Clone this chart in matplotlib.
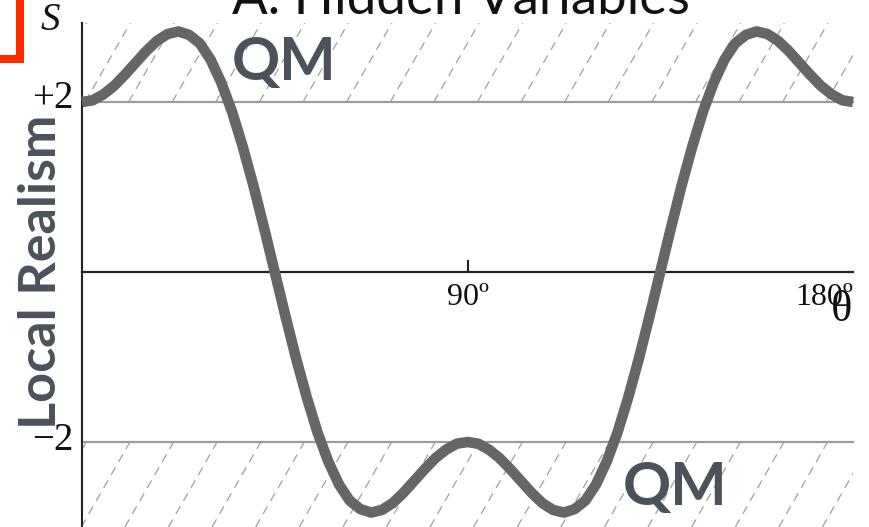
import matplotlib
matplotlib.use("Agg")
import matplotlib.pyplot as plt
from matplotlib.patches import Rectangle
from matplotlib.lines import Line2D

theta = [i * 2.5 for i in range(73)]
s_half = [2.00, 2.02, 2.09, 2.19, 2.32, 2.46, 2.60, 2.72, 2.80, 2.83,
          2.79, 2.69, 2.50, 2.23, 1.89, 1.48, 1.02, 0.52, 0.00,
          -0.52, -1.02, -1.48, -1.89, -2.23, -2.50, -2.69, -2.79, -2.83,
          -2.80, -2.72, -2.60, -2.46, -2.32, -2.19, -2.09, -2.02, -2.00]
s_values = s_half + s_half[-2::-1]

bound = 2
y_ticks = ["+2", "\u22122"]
x_ticks = [90, 180]
x_tick_labels = ["90\u00ba", "180\u00ba"]

W, H = 869, 527
fig = plt.figure(figsize=(W / 100, H / 100), dpi=100)
ax = fig.add_axes([0, 0, 1, 1])
px_deg = (853 - 82) / 180
px_unit = 85
ax.set_xlim(-82 / px_deg, (W - 82) / px_deg)
ax.set_ylim(-(H - 272) / px_unit, 272 / px_unit)
ax.axis("off")

text_col = "#4c525a"
serif = "Liberation Serif"
sans = "Lato"

# hatched "forbidden" regions beyond the local-realism bound
def hatch(y0, y1, phase):
    clip = Rectangle((0, y0), 180, y1 - y0, transform=ax.transData)
    dx = 47 / px_deg * (y1 - y0) / (82 / px_unit)
    step = 43.6 / px_deg
    x = phase - 3 * step
    while x < 185:
        ln, = ax.plot([x, x + dx], [y0, y1], color="#a0a0a0", lw=0.9,
                      ls=(0, (7, 5)), zorder=1)
        ln.set_clip_path(clip)
        x += step

top = (272 - 23) / px_unit
bottom = -(H - 272) / px_unit
hatch(bound, top, 0.7)
hatch(bottom, -bound,
      11.2 - 47 / px_deg * (-bottom - bound) / (82 / px_unit))

for yb in (bound, -bound):
    ax.plot([0, 180], [yb, yb], color="#9c9c9c", lw=1.6, zorder=2)

# axes
ax.plot([0, 0], [top, bottom], color="#222222", lw=1.5, zorder=3)
ax.plot([0, 180], [0, 0], color="#222222", lw=1.6, zorder=3)
ax.plot([90, 90], [0, 11 / px_unit], color="#222222", lw=1.5, zorder=3)

ax.plot(theta, s_values, color="#666666", lw=7.6, solid_capstyle="butt", zorder=4)

# labels
fig.text(461 / W, 1 - 14 / H, "A. Hidden Variables", ha="center", va="baseline",
         fontsize=38, family=sans, color="#111111")
fig.text(50 / W, 1 - 20 / H, "S", ha="center", va="center", fontsize=28,
         family=serif, style="italic", color="#111111")
fig.text(73 / W, 1 - 98 / H, y_ticks[0], ha="right", va="center", fontsize=28,
         family=serif, color="#111111")
fig.text(73 / W, 1 - 441 / H, y_ticks[1], ha="right", va="center", fontsize=28,
         family=serif, color="#111111")
ax.text(x_ticks[0], -11 / px_unit, x_tick_labels[0], ha="center", va="top",
        fontsize=23, family=serif, color="#111111")
ax.text(x_ticks[1], -11 / px_unit, x_tick_labels[1], ha="right", va="top",
        fontsize=23, family=serif, color="#111111")
fig.text(842 / W, 1 - 310 / H, "\u03b8", ha="center", va="center", fontsize=32,
         family=serif, color="#111111")

fig.text(232 / W, 1 - 80 / H, "QM", ha="left", va="baseline", fontsize=43,
         family=sans, weight="bold", color=text_col, zorder=5)
fig.text(623 / W, 1 - 505 / H, "QM", ha="left", va="baseline", fontsize=43,
         family=sans, weight="bold", color=text_col, zorder=5)
fig.text(42 / W, 1 - 272 / H, "Local Realism", ha="center", va="center",
         rotation=90, fontsize=37.5, family=sans, weight="bold", color=text_col)

# red corner mark
fig.add_artist(Line2D([0, 20 / W, 20 / W], [1 - 59 / H, 1 - 59 / H, 1.02],
                      color="#ff2a00", lw=5.8, solid_joinstyle="miter"))

fig.savefig("out.png", dpi=100)
